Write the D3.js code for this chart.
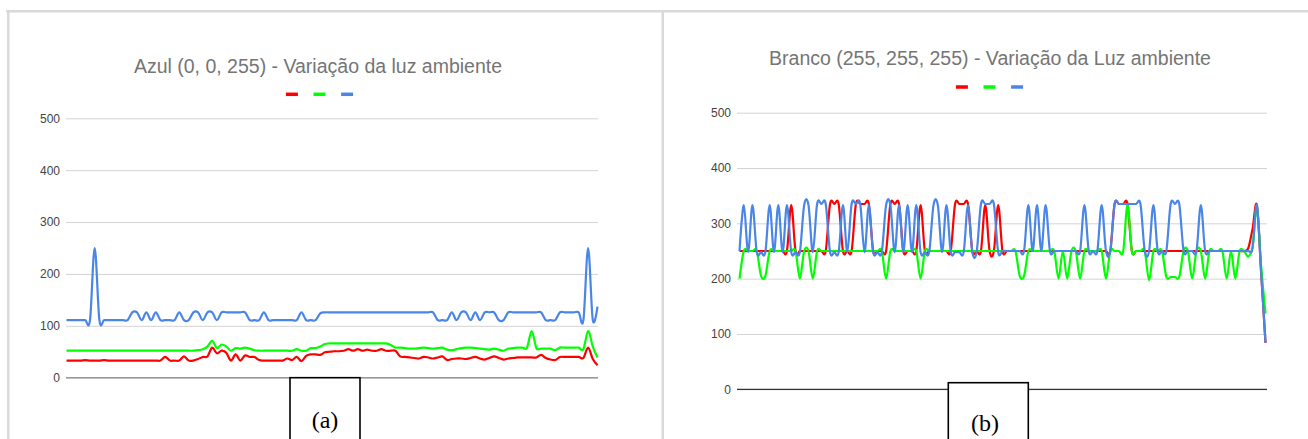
<!DOCTYPE html>
<html>
<head>
<meta charset="utf-8">
<script src="https://cdn.jsdelivr.net/npm/d3@7"></script>
<style>
  html, body { margin: 0; padding: 0; background: #fff; }
  svg { display: block; }
</style>
</head>
<body>
<svg id="fig" width="1308" height="439"></svg>
<script>
// ---- shared axis / legend settings ----
const yTicks = [0, 100, 200, 300, 400, 500];
const seriesColors = ["#ff0000", "#00ff00", "#4a86e8"];

// ---- panel (a): blue target, ambient light variation ----
const titleA = "Azul (0, 0, 255) - Variação da luz ambiente";
const captionA = "(a)";
const azulRed = [
  33,33,33,33,34,33,33,33,34,33,
  33,33,33,33,33,33,33,33,33,33,
  33,40,33,33,33,41,33,33,36,40,
  41,58,47,52,48,33,45,33,43,40,
  40,34,33,33,33,33,33,37,34,40,
  32,42,45,45,44,49,50,51,51,52,
  55,52,55,52,54,52,52,55,52,52,
  52,41,40,39,38,37,40,39,37,39,
  41,34,36,37,37,36,38,40,37,35,
  38,41,38,35,37,38,39,39,39,39,
  39,44,38,35,34,40,40,40,40,40,
  38,58,36,24
];
const azulGreen = [
  52,52,52,52,52,52,52,52,52,52,
  52,52,52,52,52,52,52,52,52,52,
  52,52,52,52,52,52,52,52,53,55,
  60,71,57,64,60,52,57,56,58,56,
  53,52,52,52,52,52,52,52,52,55,
  52,52,57,57,60,65,66,66,66,66,
  66,66,66,66,66,66,66,66,66,63,
  58,58,57,56,56,57,58,57,56,57,
  58,54,53,55,57,58,58,57,56,55,
  54,56,54,52,56,57,58,58,58,90,
  57,56,56,56,53,58,58,58,58,58,
  55,90,60,39
];
const azulBlue = [
  111,111,111,111,111,111,250,111,111,111,
  111,111,111,111,126,126,111,126,111,126,
  111,111,111,111,126,111,111,126,126,111,
  126,126,111,126,126,126,126,126,126,111,
  111,111,126,111,111,111,111,111,111,111,
  126,111,111,111,124,126,126,126,126,126,
  126,126,126,126,126,126,126,126,126,126,
  126,126,126,126,126,126,126,126,126,111,
  111,111,126,111,126,126,111,126,111,126,
  126,126,111,111,126,126,126,126,126,126,
  126,126,111,111,111,126,126,126,126,126,
  111,250,111,137
];

// ---- panel (b): white target, ambient light variation ----
const titleB = "Branco (255, 255, 255) - Variação da Luz ambiente";
const captionB = "(b)";
const brancoRed = [
  250,250,250,250,250,250,250,250,250,250,
  250,250,333,250,250,250,250,250,250,250,
  250,335,335,335,250,250,250,335,335,335,
  335,250,250,250,250,335,335,335,250,250,
  250,250,333,250,250,250,250,250,250,250,
  335,335,335,335,250,250,250,333,250,250,
  333,250,250,250,250,250,250,250,250,250,
  250,250,250,250,250,250,250,250,250,250,
  250,250,250,250,250,250,250,335,335,335,
  335,250,250,250,250,250,250,250,250,250,
  250,250,250,250,250,250,250,250,250,250,
  250,250,250,250,250,250,250,250,255,290,
  333,210,84
];
const brancoGreen = [
  200,250,250,250,250,205,205,250,250,250,
  250,250,250,250,200,250,250,200,250,250,
  250,250,250,250,250,250,250,250,250,250,
  250,250,250,250,200,250,250,250,250,250,
  250,250,200,250,250,250,250,250,250,250,
  250,250,250,250,250,250,250,250,250,250,
  250,250,250,250,250,205,205,250,250,250,
  250,250,250,250,200,250,200,250,250,200,
  250,250,250,250,250,200,250,250,250,250,
  333,250,250,250,250,197,250,250,250,203,
  203,203,203,250,250,200,250,250,200,250,
  250,250,250,200,250,200,250,250,240,258,
  328,222,137
];
const brancoBlue = [
  250,333,248,333,248,248,248,333,248,333,
  248,333,248,248,248,333,333,248,335,335,
  335,248,248,248,333,248,335,335,335,248,
  333,248,248,248,333,333,248,333,248,333,
  248,333,248,248,248,333,333,248,333,248,
  248,248,248,333,248,248,335,335,335,335,
  248,250,250,250,250,250,250,333,250,333,
  250,333,250,250,250,250,250,250,250,250,
  333,250,250,250,333,250,250,335,335,335,
  335,335,335,335,250,250,333,250,250,250,
  335,335,335,250,250,250,250,333,250,250,
  250,250,250,250,250,250,250,250,250,255,
  333,210,84
];

const FONT = "'Liberation Sans', Arial, Helvetica, sans-serif";
const SERIF = "'Liberation Serif', 'Times New Roman', serif";

const svg = d3.select("#fig");
svg.append("rect").attr("width", 1308).attr("height", 439).attr("fill", "#fff");

// light grey frame around the two chart cells
const frame = svg.append("g").attr("fill", "#d9d9d9");
frame.append("rect").attr("x", 6).attr("y", 10).attr("width", 1302).attr("height", 2.5);
frame.append("rect").attr("x", 7).attr("y", 10).attr("width", 2.5).attr("height", 429);
frame.append("rect").attr("x", 661.5).attr("y", 10).attr("width", 2.5).attr("height", 429);

function drawPanel(p) {
  const n = p.series[0].length;
  const x = d3.scaleLinear().domain([0, n - 1]).range([p.dataLeft, p.dataRight]);
  const y = d3.scaleLinear().domain([0, 500]).range([p.yZero, p.yTop]);
  const g = svg.append("g");

  // horizontal gridlines and value labels
  const axis = d3.axisLeft(y)
    .tickValues(yTicks)
    .tickFormat(d3.format("d"))
    .tickSize(-(p.plotRight - p.plotLeft))
    .tickPadding(6);
  const ag = g.append("g")
    .attr("transform", `translate(${p.plotLeft},0)`)
    .call(axis);
  ag.select(".domain").remove();
  ag.selectAll(".tick line").attr("stroke", "#d3d3d3").attr("stroke-width", 1);
  ag.selectAll(".tick text")
    .attr("fill", "#444")
    .attr("font-size", 12)
    .attr("font-family", FONT);

  // zero baseline
  g.append("line")
    .attr("x1", p.plotLeft).attr("x2", p.plotRight)
    .attr("y1", y(0)).attr("y2", y(0))
    .attr("stroke", p.baseColor).attr("stroke-width", p.baseWidth);

  // smoothed series
  const line = d3.line()
    .x((d, i) => x(i))
    .y(d => y(d))
    .curve(d3.curveCatmullRom.alpha(0));
  p.series.forEach((s, k) => {
    g.append("path")
      .datum(s)
      .attr("d", line)
      .attr("fill", "none")
      .attr("stroke", seriesColors[k])
      .attr("stroke-width", 2.2)
      .attr("stroke-linejoin", "round");
  });

  // title
  g.append("text")
    .attr("x", p.titleX).attr("y", p.titleY)
    .attr("text-anchor", "middle")
    .attr("font-family", FONT)
    .attr("font-size", 19.5)
    .attr("fill", "#757575")
    .text(p.title);

  // legend swatches
  const lx = d3.scaleLinear().domain([0, 1, 2]).range([p.legendX - 27.6, p.legendX, p.legendX + 27.6]);
  g.selectAll(null)
    .data(seriesColors)
    .join("rect")
    .attr("x", (d, i) => lx(i) - 6)
    .attr("y", p.legendY - 1.75)
    .attr("width", 12)
    .attr("height", 3.5)
    .attr("fill", d => d);

  // caption box below the chart
  g.append("rect")
    .attr("x", p.boxX).attr("y", p.boxY)
    .attr("width", p.boxW).attr("height", 100)
    .attr("fill", "#fff")
    .attr("stroke", "#000")
    .attr("stroke-width", 1.6);
  g.append("text")
    .attr("x", p.captionX).attr("y", p.captionY)
    .attr("text-anchor", "middle")
    .attr("font-family", SERIF)
    .attr("font-size", 24)
    .attr("fill", "#000")
    .text(p.caption);
}

drawPanel({
  series: [azulRed, azulGreen, azulBlue],
  title: titleA, caption: captionA,
  plotLeft: 66, plotRight: 598, dataLeft: 66.5, dataRight: 597.5,
  yZero: 377.7, yTop: 118.3,
  baseColor: "#9a9a9a", baseWidth: 1.5,
  titleX: 318, titleY: 73,
  legendX: 319.5, legendY: 94.3,
  boxX: 290, boxY: 377.7, boxW: 70, captionX: 325, captionY: 428
});

drawPanel({
  series: [brancoRed, brancoGreen, brancoBlue],
  title: titleB, caption: captionB,
  plotLeft: 737, plotRight: 1267, dataLeft: 739.5, dataRight: 1265.5,
  yZero: 389.3, yTop: 112.7,
  baseColor: "#333", baseWidth: 1.2,
  titleX: 990, titleY: 64.5,
  legendX: 989.5, legendY: 87,
  boxX: 948.3, boxY: 382.7, boxW: 80, captionX: 985, captionY: 431
});
</script>
</body>
</html>
